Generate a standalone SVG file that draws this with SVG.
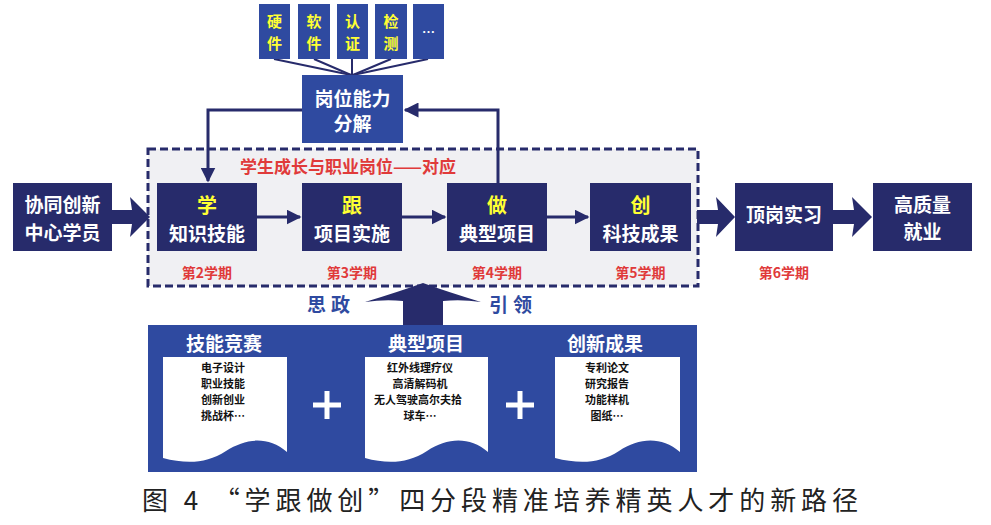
<svg xmlns="http://www.w3.org/2000/svg" width="991" height="525" viewBox="0 0 991 525">
<defs>
<style>
.t{font-family:"Noto Sans CJK SC","Noto Sans",sans-serif;font-weight:700;text-anchor:middle;dominant-baseline:central}
.d{font-size:11px}
.w{fill:#ffffff}
.y{fill:#ffff33}
.r{fill:#e03a3a}
.k{fill:#111111}
.b{fill:#2f4aa0}
.navy{fill:#272b6b}
.blue{fill:#2f4aa0}
.conn{stroke:#272b6b;stroke-width:3;fill:none}
.thin{stroke:#272b6b;stroke-width:2;fill:none}
</style>
<marker id="ah" viewBox="0 0 10 10" refX="9" refY="5" markerWidth="5" markerHeight="5" orient="auto" markerUnits="strokeWidth">
<path d="M0,0 L10,5 L0,10 Z" fill="#272b6b"/>
</marker>
</defs>
<rect width="991" height="525" fill="#ffffff"/>

<g id="frame">
<rect x="148" y="149" width="550" height="137" fill="#f0f0f3" stroke="#272b6b" stroke-width="3" stroke-dasharray="8,4"/>
<text class="t r" x="348" y="165" font-size="17">学生成长与职业岗位——对应</text>
</g>

<g id="connectors">
<line class="thin" x1="274" y1="59" x2="351" y2="75"/>
<line class="thin" x1="314" y1="59" x2="351" y2="75"/>
<line class="thin" x1="352" y1="59" x2="352" y2="75"/>
<line class="thin" x1="391" y1="59" x2="353" y2="75"/>
<line class="thin" x1="428" y1="59" x2="353" y2="75"/>
<polyline class="conn" points="302,110 208,110 208,181" marker-end="url(#ah)"/>
<polyline class="conn" points="498,183 498,110 405,110" marker-end="url(#ah)"/>
<line class="conn" x1="257" y1="217" x2="300" y2="217" stroke-width="4" marker-end="url(#ah)"/>
<line class="conn" x1="402" y1="217" x2="445" y2="217" stroke-width="4" marker-end="url(#ah)"/>
<line class="conn" x1="547" y1="217" x2="588" y2="217" stroke-width="4" marker-end="url(#ah)"/>
<polygon class="navy" points="112,210 132,210 130,197 150,217 130,237 132,224 112,224"/>
<polygon class="navy" points="697,210 718,210 716,197 735,217 716,237 718,224 697,224"/>
<polygon class="navy" points="833,210 854,210 852,197 872,217 852,237 854,224 833,224"/>
<path class="navy" d="M403,325 V301 Q385,299 365,302 Q398,292 423,283 Q448,292 481,302 Q461,299 443,301 V325 Z"/>
</g>

<g id="top-items">
<rect class="blue" x="259" y="4" width="31" height="55"/>
<text class="t y" x="274.5" y="20" font-size="15">硬</text>
<text class="t y" x="274.5" y="42" font-size="15">件</text>
<rect class="blue" x="298" y="4" width="32" height="55"/>
<text class="t y" x="314" y="20" font-size="15">软</text>
<text class="t y" x="314" y="42" font-size="15">件</text>
<rect class="blue" x="337" y="4" width="31" height="55"/>
<text class="t y" x="352.5" y="20" font-size="15">认</text>
<text class="t y" x="352.5" y="42" font-size="15">证</text>
<rect class="blue" x="375" y="4" width="32" height="55"/>
<text class="t y" x="391" y="20" font-size="15">检</text>
<text class="t y" x="391" y="42" font-size="15">测</text>
<rect class="blue" x="413" y="4" width="31" height="55"/>
<text class="t w" x="428.5" y="31" font-size="13">…</text>
</g>

<g id="gangwei">
<rect class="blue" x="302" y="75" width="101" height="68"/>
<text class="t w" x="352.5" y="97" font-size="19">岗位能力</text>
<text class="t w" x="352.5" y="122" font-size="19">分解</text>
</g>

<g id="xietong">
<rect class="navy" x="13" y="183" width="99" height="68"/>
<text class="t w" x="62.5" y="203" font-size="19">协同创新</text>
<text class="t w" x="62.5" y="231" font-size="19">中心学员</text>
</g>

<g id="xue">
<rect class="navy" x="157" y="183" width="100" height="68"/>
<text class="t y" x="207" y="204" font-size="20">学</text>
<text class="t w" x="207" y="232" font-size="19">知识技能</text>
<text class="t r" x="207" y="272" font-size="14">第2学期</text>
</g>

<g id="gen">
<rect class="navy" x="302" y="183" width="100" height="68"/>
<text class="t y" x="352" y="204" font-size="20">跟</text>
<text class="t w" x="352" y="232" font-size="19">项目实施</text>
<text class="t r" x="352" y="272" font-size="14">第3学期</text>
</g>

<g id="zuo">
<rect class="navy" x="447" y="183" width="100" height="68"/>
<text class="t y" x="497" y="204" font-size="20">做</text>
<text class="t w" x="497" y="232" font-size="19">典型项目</text>
<text class="t r" x="497" y="272" font-size="14">第4学期</text>
</g>

<g id="chuang">
<rect class="navy" x="590" y="183" width="101" height="68"/>
<text class="t y" x="640.5" y="204" font-size="20">创</text>
<text class="t w" x="640.5" y="232" font-size="19">科技成果</text>
<text class="t r" x="640.5" y="272" font-size="14">第5学期</text>
</g>

<g id="dinggang">
<rect class="navy" x="735" y="183" width="98" height="68"/>
<text class="t w" x="784" y="213" font-size="19">顶岗实习</text>
<text class="t r" x="784" y="272" font-size="14">第6学期</text>
</g>

<g id="gaozhiliang">
<rect class="navy" x="873" y="183" width="99" height="68"/>
<text class="t w" x="922.5" y="203" font-size="19">高质量</text>
<text class="t w" x="922.5" y="230" font-size="19">就业</text>
</g>

<g id="guide-labels">
<text class="t b" x="331" y="303" font-size="19" letter-spacing="5">思政</text>
<text class="t b" x="513" y="303" font-size="19" letter-spacing="5">引领</text>
</g>

<g id="bottom-panel">
<rect class="blue" x="148" y="325" width="549" height="147"/>
<text class="t w" x="224" y="342" font-size="19">技能竞赛</text>
<text class="t w" x="426" y="342" font-size="19">典型项目</text>
<text class="t w" x="605" y="342" font-size="19">创新成果</text>
</g>

<g id="doc-skills">
<path fill="#ffffff" d="M163,357 H287 V452 C268,436 246,438 226,451 C206,464 186,464 163,458 Z"/>
<text class="t k d" x="223" y="367">电子设计</text>
<text class="t k d" x="223" y="383">职业技能</text>
<text class="t k d" x="223" y="399">创新创业</text>
<text class="t k d" x="223" y="415">挑战杯…</text>
</g>

<g id="doc-projects">
<path fill="#ffffff" d="M365,357 H488 V452 C469,436 447,438 427,451 C407,464 387,464 365,458 Z"/>
<text class="t k d" x="420" y="367">红外线理疗仪</text>
<text class="t k d" x="420" y="383">高清解码机</text>
<text class="t k d" x="418" y="399">无人驾驶高尔夫拾</text>
<text class="t k d" x="420" y="415">球车…</text>
</g>

<g id="doc-results">
<path fill="#ffffff" d="M555,357 H680 V452 C661,436 639,438 619,451 C599,464 579,464 555,458 Z"/>
<text class="t k d" x="607" y="367">专利论文</text>
<text class="t k d" x="607" y="383">研究报告</text>
<text class="t k d" x="607" y="399">功能样机</text>
<text class="t k d" x="607" y="415">图纸…</text>
</g>

<g id="plus-signs" stroke="#ffffff" stroke-width="5">
<line x1="313" y1="405" x2="341" y2="405"/>
<line x1="327" y1="391" x2="327" y2="419"/>
<line x1="506" y1="405" x2="534" y2="405"/>
<line x1="520" y1="391" x2="520" y2="419"/>
</g>

<text x="142" y="510" font-family="Noto Sans CJK SC,sans-serif" font-size="26" fill="#222222" textLength="716" lengthAdjust="spacing">图 4 “学跟做创”四分段精准培养精英人才的新路径</text>
</svg>
